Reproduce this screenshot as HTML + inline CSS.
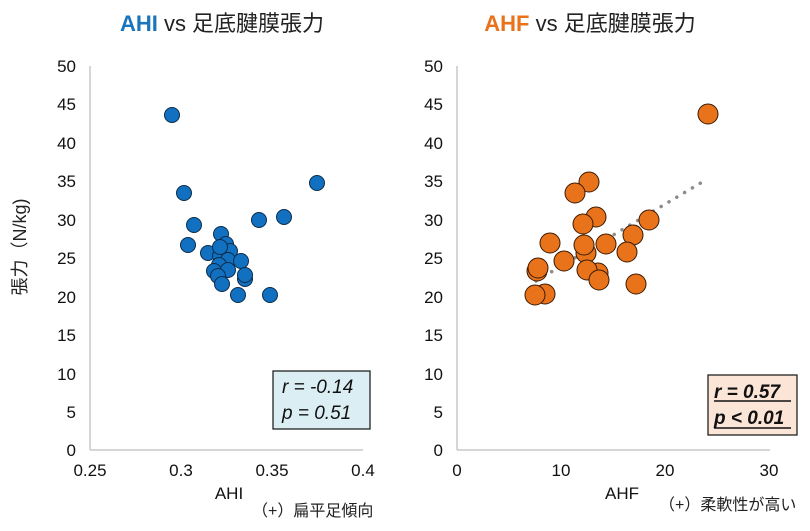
<!DOCTYPE html>
<html><head><meta charset="utf-8"><style>
html,body{margin:0;padding:0;background:#fff;}
svg{display:block;}
text{font-family:"Liberation Sans","Noto Sans CJK JP",sans-serif;}
</style></head><body>
<svg width="810" height="531" viewBox="0 0 810 531" xmlns="http://www.w3.org/2000/svg">
<text x="222" y="31" font-size="22" text-anchor="middle" fill="#222"><tspan font-weight="bold" fill="#1a75bc">AHI</tspan> vs 足底腱膜張力</text>
<text x="590" y="31" font-size="22" text-anchor="middle" fill="#222"><tspan font-weight="bold" fill="#e8731a">AHF</tspan> vs 足底腱膜張力</text>

<text transform="translate(26,247) rotate(-90)" font-size="18" text-anchor="middle" fill="#222">張力（N/kg)</text>

<g stroke="#c8c8c8" stroke-width="1.5">
<line x1="90" y1="66" x2="90" y2="450"/><line x1="90" y1="450" x2="363" y2="450"/>
<line x1="457" y1="66" x2="457" y2="450"/><line x1="457" y1="450" x2="770" y2="450"/>
</g>
<g font-size="17" fill="#111" text-anchor="end">
<text x="76" y="72">50</text><text x="76" y="149">40</text><text x="76" y="226">30</text><text x="76" y="303">20</text><text x="76" y="380">10</text>
<text x="76" y="110">45</text><text x="76" y="187">35</text><text x="76" y="264">25</text><text x="76" y="341">15</text><text x="76" y="418">5</text><text x="76" y="456">0</text>
<text x="443" y="72">50</text><text x="443" y="149">40</text><text x="443" y="226">30</text><text x="443" y="303">20</text><text x="443" y="380">10</text>
<text x="443" y="110">45</text><text x="443" y="187">35</text><text x="443" y="264">25</text><text x="443" y="341">15</text><text x="443" y="418">5</text><text x="443" y="456">0</text>
</g>
<g font-size="17" fill="#111" text-anchor="middle">
<text x="90" y="476">0.25</text><text x="181" y="476">0.3</text><text x="272" y="476">0.35</text><text x="363" y="476">0.4</text>
<text x="457" y="476">0</text><text x="561" y="476">10</text><text x="665" y="476">20</text><text x="769" y="476">30</text>
<text x="229" y="499">AHI</text><text x="622" y="499">AHF</text>
</g>
<text x="252" y="516" font-size="16" fill="#222">（+）扁平足傾向</text>
<text x="659" y="510" font-size="16" fill="#222">（+）柔軟性が高い</text>

<g fill="#1170bf" stroke="#0d2c4a" stroke-width="1">
<circle cx="172" cy="115" r="7.5"/><circle cx="184" cy="193" r="7.5"/><circle cx="317" cy="183" r="7.5"/>
<circle cx="284" cy="217" r="7.5"/><circle cx="259" cy="220" r="7.5"/><circle cx="194" cy="225" r="7.5"/>
<circle cx="188" cy="245" r="7.5"/><circle cx="221" cy="234" r="7.5"/><circle cx="226" cy="244" r="7.5"/>
<circle cx="230" cy="251" r="7.5"/><circle cx="208" cy="253" r="7.5"/><circle cx="220" cy="256" r="7.5"/>
<circle cx="228" cy="260" r="7.5"/><circle cx="241" cy="261" r="7.5"/><circle cx="219" cy="265" r="7.5"/>
<circle cx="214" cy="271" r="7.5"/><circle cx="228" cy="270" r="7.5"/><circle cx="245" cy="279" r="7.5"/>
<circle cx="218" cy="276" r="7.5"/><circle cx="222" cy="284" r="7.5"/><circle cx="245" cy="275" r="7.5"/>
<circle cx="238" cy="295" r="7.5"/><circle cx="270" cy="295" r="7.5"/><circle cx="220" cy="247" r="7.5"/>
</g>

<line x1="536" y1="281" x2="704" y2="181" stroke="#8c8c8c" stroke-width="3.5" stroke-dasharray="0.1 9" stroke-linecap="round"/>
<g fill="#e8731a" stroke="#3a1a05" stroke-width="1">
<circle cx="708" cy="114" r="10"/><circle cx="589" cy="182" r="10"/><circle cx="575" cy="193" r="10"/>
<circle cx="596" cy="217" r="10"/><circle cx="583" cy="224" r="10"/><circle cx="649" cy="220" r="10"/>
<circle cx="633" cy="235" r="10"/><circle cx="550" cy="243" r="10"/><circle cx="564" cy="261" r="10"/>
<circle cx="586" cy="253" r="10"/><circle cx="584" cy="245" r="10"/><circle cx="606" cy="244" r="10"/>
<circle cx="627" cy="252" r="10"/><circle cx="537" cy="271" r="10"/><circle cx="538" cy="268" r="10"/>
<circle cx="598" cy="273" r="10"/><circle cx="587" cy="270" r="10"/><circle cx="599" cy="280" r="10"/>
<circle cx="545" cy="294" r="10"/><circle cx="535" cy="295" r="10"/><circle cx="636" cy="284" r="10"/>
</g>

<rect x="273" y="371" width="97" height="58" fill="#dbeef4" stroke="#222" stroke-width="1.3"/>
<text x="282" y="393" font-size="19" font-style="italic" fill="#111">r = -0.14</text>
<text x="282" y="419" font-size="19" font-style="italic" fill="#111">p = 0.51</text>
<rect x="708" y="375" width="89" height="60" fill="#fbe5d6" stroke="#222" stroke-width="1.3"/>
<text x="714" y="398" font-size="19" font-style="italic" font-weight="bold" fill="#111">r = 0.57</text>
<line x1="714" y1="401" x2="791" y2="401" stroke="#111" stroke-width="1.5"/>
<text x="714" y="424" font-size="19" font-style="italic" font-weight="bold" fill="#111">p &lt; 0.01</text>
<line x1="714" y1="428" x2="791" y2="428" stroke="#111" stroke-width="1.5"/>
</svg>
</body></html>
